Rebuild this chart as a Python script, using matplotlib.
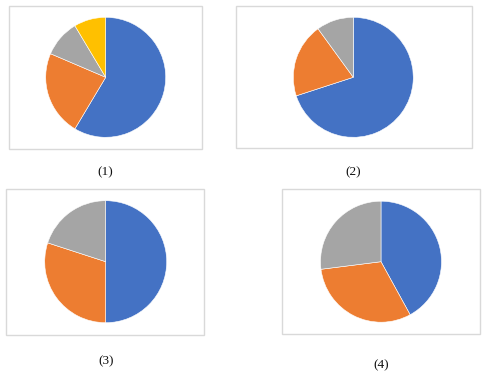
import matplotlib
matplotlib.use("Agg")
import matplotlib.pyplot as plt
from matplotlib.patches import Rectangle

W, H = 485, 373

labels = ["(1)", "(2)", "(3)", "(4)"]
values1 = [8.2, 3.2, 1.4, 1.2]
values2 = [70, 20, 10]
values3 = [50, 30, 20]
values4 = [42, 31, 27]
all_values = [values1, values2, values3, values4]
colors = ["#4472C4", "#ED7D31", "#A5A5A5", "#FFC000"]

# layout in pixel coordinates (top-left origin)
frames = [(9, 6, 202, 149), (236, 6, 472, 148), (6, 189, 204, 335), (282, 189, 480, 334)]
centers = [(105.7, 77.3, 60), (353.3, 77.3, 60), (105.7, 261.7, 61), (381, 261.7, 60.5)]
label_pos = [(105.5, 172), (352.7, 172.7), (105.7, 361.7), (381, 365)]

fig = plt.figure(figsize=(W / 100, H / 100), dpi=100)
ax = fig.add_axes([0, 0, 1, 1])
ax.set_xlim(0, W)
ax.set_ylim(0, H)
ax.set_aspect("equal")
ax.axis("off")

for vals, fr, (cx, cy, r), (lx, ly), lab in zip(all_values, frames, centers, label_pos, labels):
    x0, y0, x1, y1 = fr
    ax.add_patch(Rectangle((x0, H - y1), x1 - x0, y1 - y0, facecolor="white",
                           edgecolor="#D9D9D9", linewidth=1.0, zorder=0))
    ax.pie(vals, colors=colors[:len(vals)], startangle=90, counterclock=False,
           center=(cx, H - cy), radius=r, frame=True,
           wedgeprops=dict(linewidth=0.4, edgecolor="white"))
    ax.text(lx, H - ly, lab, ha="center", va="center", fontsize=9.5,
            family="Liberation Serif", color="#111111")

ax.set_xlim(0, W)
ax.set_ylim(0, H)
ax.axis("off")
fig.savefig("out.png", dpi=100)
